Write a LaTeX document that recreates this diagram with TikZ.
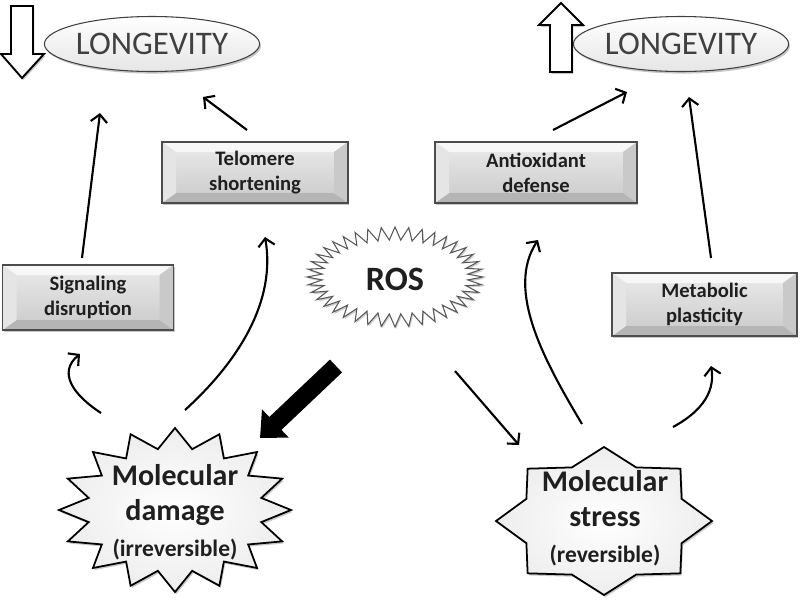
\documentclass[tikz,border=0pt]{standalone}
\usepackage{fontspec}
\setmainfont{Carlito}
\usetikzlibrary{shapes.geometric,arrows.meta,shadows,calc}
\begin{document}
\begin{tikzpicture}[x=0.85pt,y=-0.85pt,
  shd/.style={drop shadow={shadow xshift=1.2pt,shadow yshift=-1.8pt,fill=black,opacity=0.22}},
  lnk/.style={line width=1.8pt,-{Straight Barb[length=6.5pt,width=14pt]}},
  blockarrow/.style={draw=black,line width=1.6pt,fill=white,line join=miter,shd},
  longev/.style={ellipse,draw=black!75,line width=0.9pt,top color=white,bottom color=gray!20,
    minimum width=194*0.85pt,minimum height=55*0.85pt,inner sep=0pt,shd,
    text=black!75,font=\fontsize{28pt}{30pt}\selectfont},
  bevelbox/.style={draw=black!70,line width=1pt,top color=gray!16,bottom color=gray!42,
    inner sep=0pt,align=center,text=black!88,shd,
    font=\fontsize{17.5pt}{21pt}\selectfont\bfseries,
    path picture={
      \fill[gray!6] (path picture bounding box.north west) -- (path picture bounding box.north east)
        -- ($(path picture bounding box.north east)+(-14,10)$) -- ($(path picture bounding box.north west)+(14,10)$) -- cycle;
      \fill[gray!58] (path picture bounding box.south west) -- (path picture bounding box.south east)
        -- ($(path picture bounding box.south east)+(-14,-10)$) -- ($(path picture bounding box.south west)+(14,-10)$) -- cycle;
      \fill[gray!20] (path picture bounding box.north west) -- (path picture bounding box.south west)
        -- ($(path picture bounding box.south west)+(14,-10)$) -- ($(path picture bounding box.north west)+(14,10)$) -- cycle;
      \fill[gray!42] (path picture bounding box.north east) -- (path picture bounding box.south east)
        -- ($(path picture bounding box.south east)+(-14,-10)$) -- ($(path picture bounding box.north east)+(-14,10)$) -- cycle;
    }},
  starshape/.style={draw=black,line width=1.5pt,line join=miter,inner color=white,outer color=gray!14,shd},
  startext/.style={align=center,text=black!88,font=\fontsize{25.5pt}{30pt}\selectfont\bfseries}
]
\useasboundingbox (0,0) rectangle (800,603);

% block arrows
\draw[blockarrow] (11,6) -- (33,6) -- (33,54) -- (44,54) -- (22,78) -- (1,54) -- (11,54) -- cycle;
\draw[blockarrow] (550,72) -- (572,72) -- (572,25) -- (583,25) -- (561,3) -- (539,25) -- (550,25) -- cycle;

% longevity ellipses
\node[longev] (llong) at (152,44) {LONGEVITY};
\node[longev] (rlong) at (681,44) {LONGEVITY};

% boxes
\node[bevelbox,minimum width=186*0.85pt,minimum height=61*0.85pt] (tel) at (255,172.5) {Telomere\\shortening};
\node[bevelbox,minimum width=202*0.85pt,minimum height=61*0.85pt] (anti) at (536,172.5) {Antioxidant\\defense};
\node[bevelbox,minimum width=171*0.85pt,minimum height=65*0.85pt] (sig) at (88,297.5) {Signaling\\disruption};
\node[bevelbox,minimum width=185*0.85pt,minimum height=63*0.85pt] (met) at (704.5,304.5) {Metabolic\\plasticity};

% ROS burst
\draw[draw=black!65,line width=0.9pt,fill=white,line join=miter,
  drop shadow={shadow xshift=1pt,shadow yshift=-1.5pt,fill=black,opacity=0.2}]
  plot[samples at={0,...,79},variable=\t]
  ({395+ifthenelse(mod(\t,2)==0,88,73)*cos(90+4.5*\t)},{277-ifthenelse(mod(\t,2)==0,50,37)*sin(90+4.5*\t)}) -- cycle;
\node[text=black!88,font=\fontsize{29pt}{30pt}\selectfont\bfseries] (ros) at (395,279) {ROS};

% molecular damage star
\draw[starshape]
  plot[samples at={0,...,31},variable=\t]
  ({175+ifthenelse(mod(\t,2)==0,116,88)*cos(90+11.25*\t)},{510-ifthenelse(mod(\t,2)==0,82,62)*sin(90+11.25*\t)}) -- cycle;
\node[startext] (dmg) at (175,512) {Molecular\\damage\\\fontsize{20pt}{26pt}\selectfont(irreversible)};

% molecular stress star
\draw[starshape]
  plot[samples at={0,...,15},variable=\t]
  ({604+ifthenelse(mod(\t,2)==0,108,84)*cos(90+22.5*\t)},{521-ifthenelse(mod(\t,2)==0,74,58)*sin(90+22.5*\t)}) -- cycle;
\node[startext] (str) at (605,518) {Molecular\\stress\\\fontsize{20pt}{26pt}\selectfont(reversible)};

% connector end points
\coordinate (sigtop) at (82,258);   \coordinate (llongA) at (100,113);
\coordinate (teltop) at (247,130);  \coordinate (llongB) at (203,97);
\coordinate (antitop) at (553,130); \coordinate (rlongA) at (627,92);
\coordinate (mettop) at (711,258);  \coordinate (rlongB) at (689,97);
\coordinate (rosA) at (336,366);    \coordinate (dmgin) at (260,438);
\coordinate (rosB) at (455,371);    \coordinate (strin) at (519,445);
\coordinate (dmgL) at (101,413);    \coordinate (sigbot) at (80,354);
\coordinate (dmgR) at (185,410);    \coordinate (telbot) at (265,237);
\coordinate (strL) at (582,424);    \coordinate (antibot) at (538,240);
\coordinate (strR) at (673,427);    \coordinate (metbot) at (711,366);

% connectors
\draw[lnk] (sigtop) -- (llongA);
\draw[lnk] (teltop) -- (llongB);
\draw[lnk] (antitop) -- (rlongA);
\draw[lnk] (mettop) -- (rlongB);
\draw[lnk] (rosB) -- (strin);
\draw[line width=15pt,-{Triangle[length=18pt,width=32pt]}] (rosA) -- (dmgin);
\draw[lnk] (dmgL) .. controls (72,394) and (58,372) .. (sigbot);
\draw[lnk] (dmgR) .. controls (240,360) and (276,300) .. (telbot);
\draw[lnk] (strL) .. controls (545,362) and (505,290) .. (antibot);
\draw[lnk] (strR) .. controls (697,414) and (716,395) .. (metbot);
\end{tikzpicture}
\end{document}
